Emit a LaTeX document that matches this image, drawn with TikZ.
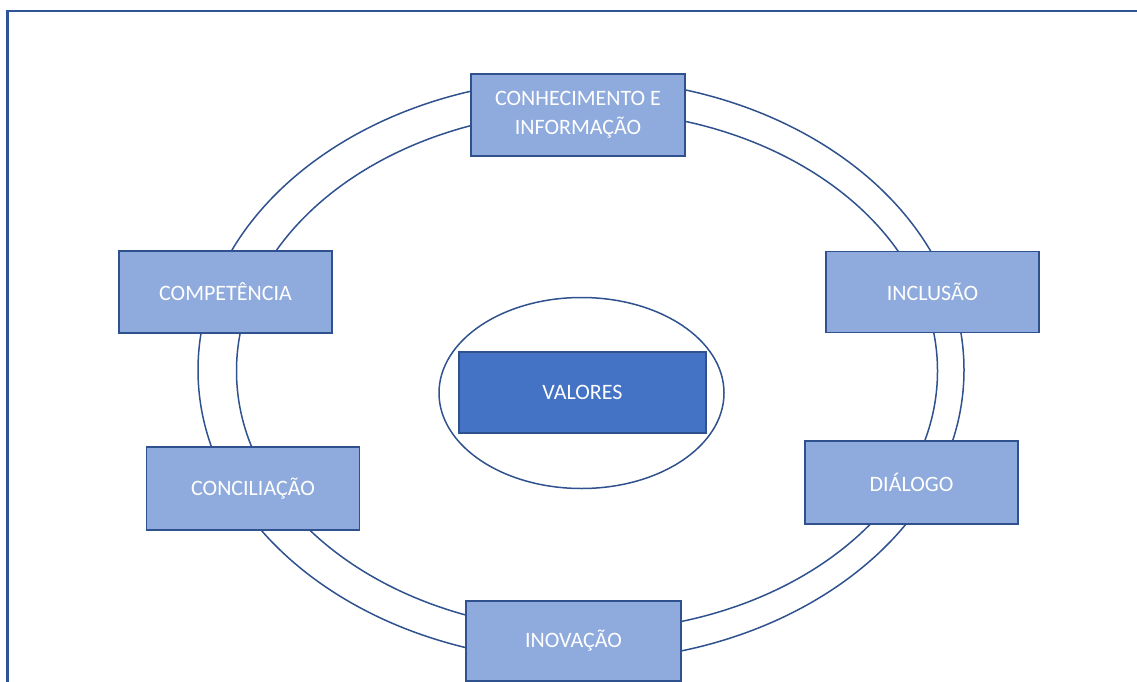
\documentclass[tikz,border=0pt]{standalone}
\usepackage{fontspec}
\setmainfont{Carlito}
\usetikzlibrary{shapes.geometric}
\definecolor{boxfill}{HTML}{8FAADC}
\definecolor{boxline}{HTML}{2F528F}
\definecolor{valfill}{HTML}{4472C4}
\definecolor{framecol}{HTML}{2F5597}
\tikzset{
  ring/.style={draw=boxline, line width=1.5pt, ellipse, inner sep=0pt},
  item/.style={draw=boxline, fill=boxfill, line width=1.8pt, rectangle, inner sep=0pt,
    minimum width=213pt, minimum height=81pt, text=white, align=center,
    font=\fontsize{22}{29}\selectfont},
  core/.style={item, fill=valfill, minimum width=247pt, minimum height=81pt}
}
\begin{document}
\begin{tikzpicture}[x=1pt, y=-1pt]
\useasboundingbox (0,0) rectangle (1137,682);
\clip (0,0) rectangle (1137,682);
\draw[framecol, line width=2.2pt] (7.5,700) -- (7.5,11) -- (1150,11);
\node[ring, minimum width=766pt, minimum height=582pt] (outer) at (581,370) {};
\node[ring, minimum width=701pt, minimum height=520pt] (inner) at (587,371) {};
\node[ring, minimum width=285pt, minimum height=191pt] (small) at (581.5,393) {};
\node[item, minimum width=214pt, minimum height=82pt] (kn) at (578,115) {CONHECIMENTO E\\INFORMAÇÃO};
\node[item, minimum height=82pt] (comp) at (225.5,292) {COMPETÊNCIA};
\node[item, minimum height=83pt] (conc) at (253,488.5) {CONCILIAÇÃO};
\node[item] (incl) at (932.5,292) {INCLUSÃO};
\node[item, minimum height=83pt] (dial) at (911.5,482.5) {DIÁLOGO};
\node[item, minimum width=215pt, minimum height=80pt] (inov) at (573.5,641) {INOVAÇÃO};
\node[core] (val) at (582.5,392.5) {VALORES};
\end{tikzpicture}
\end{document}
